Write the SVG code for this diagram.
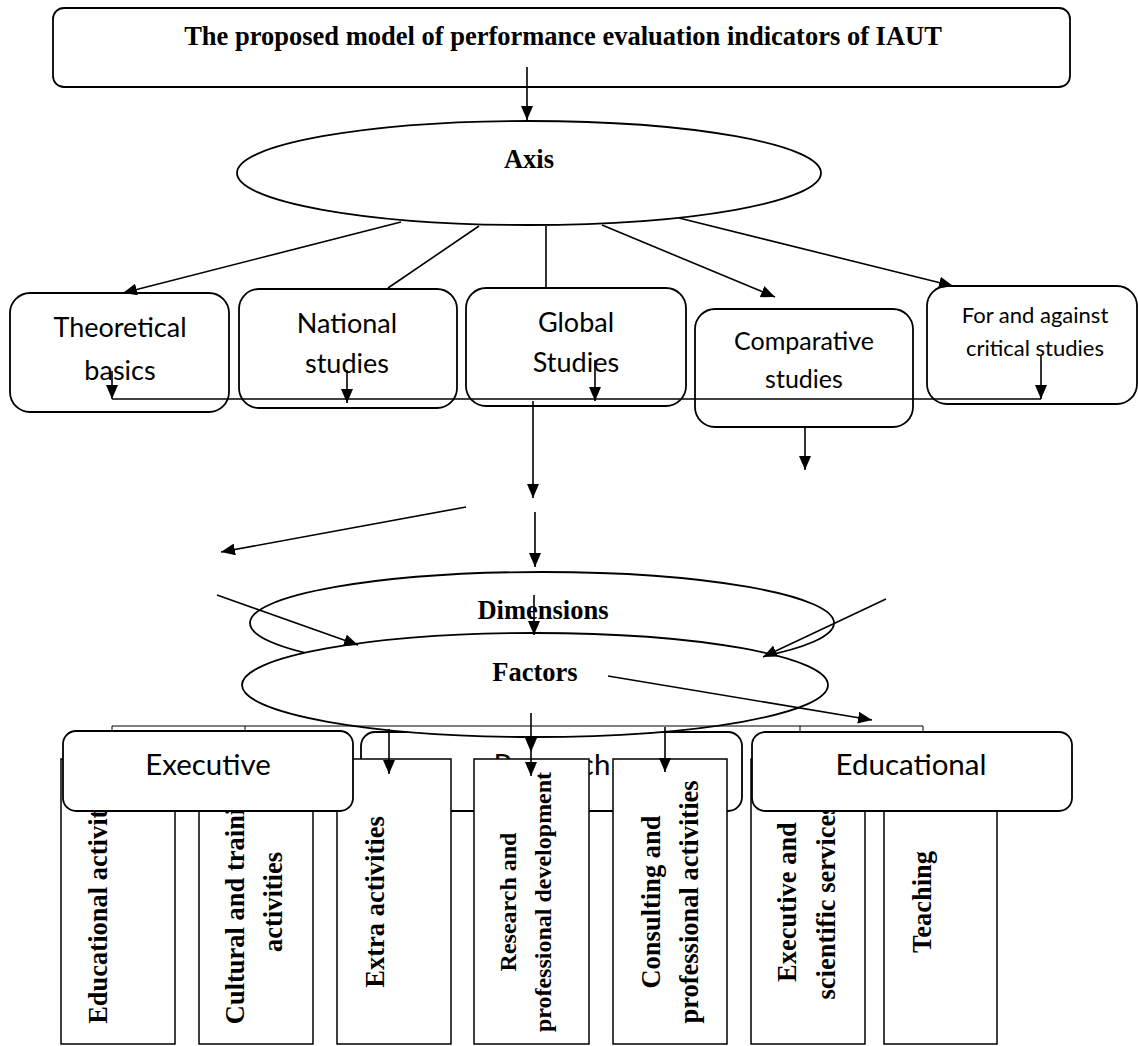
<svg xmlns="http://www.w3.org/2000/svg" width="1138" height="1046" viewBox="0 0 1138 1046">
<defs>
<marker id="ah" markerUnits="userSpaceOnUse" markerWidth="14" markerHeight="12" refX="14" refY="6" orient="auto">
<path d="M0,0 L14,6 L0,12 z" fill="#000"/>
</marker>
<style>
.box{fill:#fff;stroke:#000;stroke-width:1.8}
.rect{fill:#fff;stroke:#000;stroke-width:1.5}
.serif{font-family:"Liberation Serif","Times New Roman",serif;font-weight:bold;font-size:26.5px;fill:#000}
.sans{font-family:Lato,"Liberation Sans",sans-serif;fill:#000}
.c{text-anchor:middle}
.ln{stroke:#000;stroke-width:1.6;fill:none}
.ar{stroke:#000;stroke-width:1.6;fill:none;marker-end:url(#ah)}
.thin{stroke:#000;stroke-width:1;fill:none}
</style>
</defs>
<rect width="1138" height="1046" fill="#fff"/>

<g id="top">
<rect class="box" x="53" y="8" width="1017" height="79" rx="11"/>
<text class="serif c" x="563" y="45">The proposed model of performance evaluation indicators of IAUT</text>
</g>

<g id="axis">
<ellipse class="box" cx="529" cy="173" rx="292" ry="52"/>
<text class="serif c" x="529" y="168">Axis</text>
</g>

<g id="theoretical">
<rect class="box" x="10" y="293" width="219" height="119" rx="20"/>
<text class="sans c" x="120" y="337" font-size="27">Theoretical</text>
<text class="sans c" x="120" y="380" font-size="27">basics</text>
</g>
<g id="national">
<rect class="box" x="239" y="289" width="218" height="119" rx="20"/>
<text class="sans c" x="347" y="333" font-size="27">National</text>
<text class="sans c" x="347" y="373" font-size="27">studies</text>
</g>
<g id="global">
<rect class="box" x="466" y="288" width="220" height="118" rx="20"/>
<text class="sans c" x="576" y="332" font-size="27">Global</text>
<text class="sans c" x="576" y="372" font-size="27">Studies</text>
</g>
<g id="comparative">
<rect class="box" x="695" y="309" width="218" height="118" rx="20"/>
<text class="sans c" x="804" y="350" font-size="25">Comparative</text>
<text class="sans c" x="804" y="388" font-size="25">studies</text>
</g>
<g id="forandagainst">
<rect class="box" x="927" y="286" width="210" height="118" rx="20"/>
<text class="sans c" x="1035" y="323" font-size="22">For and against</text>
<text class="sans c" x="1035" y="356" font-size="22">critical studies</text>
</g>

<g id="research">
<rect class="box" x="361" y="732" width="381" height="79" rx="14"/>
<text class="sans c" x="552" y="775" font-size="29.5">Research</text>
</g>

<g id="dimensions">
<ellipse class="box" cx="542" cy="623" rx="292" ry="51"/>
<text class="serif c" x="543" y="619">Dimensions</text>
</g>
<g id="factors">
<ellipse class="box" cx="535" cy="685" rx="293" ry="52"/>
<text class="serif c" x="535" y="681">Factors</text>
</g>

<g id="bracket">
<path class="thin" d="M112,731 V726 H923 V731 M245,726 V731 M800,726 V731"/>
</g>

<g id="educational-activities">
<rect class="rect" x="61" y="759" width="114" height="285"/>
<text class="serif c" transform="translate(107,902) rotate(-90)">Educational activities</text>
</g>
<g id="cultural">
<rect class="rect" x="199" y="759" width="114" height="285"/>
<text class="serif c" transform="translate(244,902) rotate(-90)">Cultural and training</text>
<text class="serif c" transform="translate(282,902) rotate(-90)">activities</text>
</g>
<g id="extra">
<rect class="rect" x="337" y="759" width="114" height="285"/>
<text class="serif c" transform="translate(384,902) rotate(-90)">Extra activities</text>
</g>
<g id="research-dev">
<rect class="rect" x="474" y="759" width="115" height="285"/>
<text class="serif c" font-size="24" style="font-size:24px" transform="translate(516,902) rotate(-90)">Research and</text>
<text class="serif c" style="font-size:24px" transform="translate(551,902) rotate(-90)">professional development</text>
</g>
<g id="consulting">
<rect class="rect" x="613" y="759" width="114" height="285"/>
<text class="serif c" transform="translate(660,902) rotate(-90)">Consulting and</text>
<text class="serif c" transform="translate(698,902) rotate(-90)">professional activities</text>
</g>
<g id="executive-services">
<rect class="rect" x="751" y="759" width="114" height="285"/>
<text class="serif c" transform="translate(796,902) rotate(-90)">Executive and</text>
<text class="serif c" transform="translate(835,902) rotate(-90)">scientific services</text>
</g>
<g id="teaching">
<rect class="rect" x="884" y="759" width="113" height="285"/>
<text class="serif c" transform="translate(931,902) rotate(-90)">Teaching</text>
</g>

<g id="executive">
<rect class="box" x="63" y="731" width="290" height="80" rx="13"/>
<text class="sans c" x="208" y="775" font-size="29.5">Executive</text>
</g>
<g id="educational">
<rect class="box" x="752" y="732" width="320" height="79" rx="13"/>
<text class="sans c" x="911" y="775" font-size="29.5">Educational</text>
</g>

<g id="connectors">
<path class="ar" d="M527,67 V120"/>
<path class="ar" d="M401,222 L123,293"/>
<path class="ln" d="M479,226 L388,288"/>
<path class="ln" d="M546,226 V287"/>
<path class="ar" d="M602,225 L775,297"/>
<path class="ar" d="M679,218 L953,286"/>
<path class="ar" d="M112,371 V399"/>
<path class="ar" d="M347,370 V403"/>
<path class="ar" d="M595,360 V401"/>
<path class="ar" d="M1041,355 V399"/>
<path class="ln" d="M112,399 H1041"/>
<path class="ar" d="M533,401 V498"/>
<path class="ar" d="M805,427 V470"/>
<path class="ar" d="M535,512 V567"/>
<path class="ar" d="M466,507 L221,552"/>
<path class="ar" d="M534,595 V635"/>
<path class="ar" d="M217,595 L358,645"/>
<path class="ar" d="M886,599 L763,657"/>
<path class="ar" d="M608,676 L872,720"/>
<path class="ar" d="M389,729 V774"/>
<path class="ar" d="M531,713 V752"/>
<path class="ar" d="M531,752 V776"/>
<path class="ar" d="M665,727 V772"/>
</g>
</svg>
